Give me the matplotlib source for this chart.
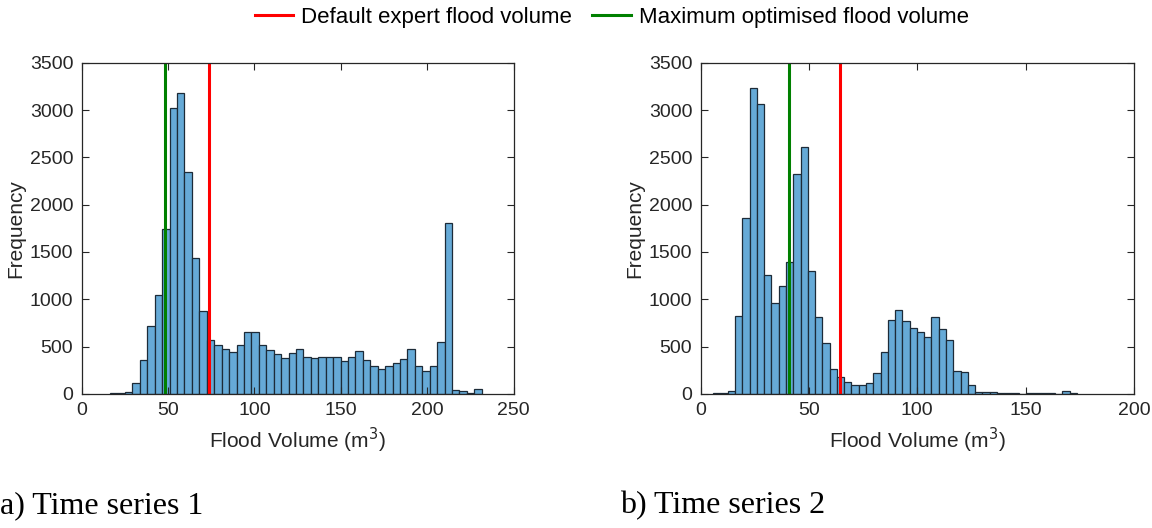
import numpy as np
from matplotlib import pyplot as plt
from matplotlib.lines import Line2D

# histogram counts (50 bins each)
counts_ts1 = [7, 10, 20, 116, 355, 714, 1041, 1738, 3025, 3183,
              2343, 1432, 872, 566, 514, 471, 440, 514, 651, 658,
              517, 461, 419, 376, 429, 474, 394, 379, 387, 390,
              387, 348, 390, 453, 358, 299, 264, 295, 327, 369,
              474, 295, 242, 299, 548, 1810, 42, 32, 10, 49]
counts_ts2 = [7, 10, 28, 819, 1862, 3233, 3067, 1258, 956, 1138,
              1395, 2326, 2604, 1304, 815, 534, 260, 176, 123, 100,
              95, 116, 221, 446, 780, 885, 766, 692, 654, 601,
              812, 685, 566, 242, 232, 98, 21, 21, 21, 10,
              10, 10, 0, 10, 10, 10, 10, 0, 32, 10]

# bin range (first edge, last edge)
range_ts1 = (16.5, 231.5)
range_ts2 = (5.8, 173.7)

default_vol = [73.4, 64.5]
optimised_vol = [48.3, 40.9]

xmax = [250, 200]
xticks = [[0, 50, 100, 150, 200, 250], [0, 50, 100, 150, 200]]
yticks = [0, 500, 1000, 1500, 2000, 2500, 3000, 3500]
captions = ['a) Time series 1', 'b) Time series 2']

bar_color = '#66aad7'
edge_color = '#1d2b38'
axis_color = '#262626'

plt.rcParams['font.family'] = ['Liberation Sans', 'DejaVu Sans']

fig = plt.figure(figsize=(11.52, 5.28), dpi=100)
ax1 = fig.add_axes([0.0709, 0.2538, 0.3750, 0.6275])
ax2 = fig.add_axes([0.6082, 0.2538, 0.3761, 0.6275])

data = [(counts_ts1, range_ts1), (counts_ts2, range_ts2)]
caption_x = [0.0, 0.538]

for i, ax in enumerate([ax1, ax2]):
    cnt, rng = data[i]
    edges = np.linspace(rng[0], rng[1], len(cnt) + 1)
    centers = (edges[:-1] + edges[1:]) / 2
    ax.hist(centers, bins=edges, weights=cnt, color=bar_color,
            edgecolor=edge_color, linewidth=0.9)
    ax.axvline(default_vol[i], color='#ff0000', lw=2.2)
    ax.axvline(optimised_vol[i], color='#008000', lw=2.2)

    ax.set_xlim(0, xmax[i])
    ax.set_ylim(0, 3500)
    ax.set_xticks(xticks[i])
    ax.set_yticks(yticks)
    ax.tick_params(direction='in', length=5, width=0.8, top=True, right=True,
                   labelsize=14, colors=axis_color, pad=6)
    for s in ax.spines.values():
        s.set_color(axis_color)
        s.set_linewidth(0.9)
    ax.set_xlabel('Flood Volume (m$^3$)', fontsize=15, color=axis_color,
                  labelpad=5)
    ax.set_ylabel('Frequency', fontsize=15, color=axis_color, labelpad=3)

    fig.text(caption_x[i], 0.043, captions[i], family='Liberation Serif',
             fontsize=23, color='black', ha='left', va='center')

# shared legend on top
handles = [Line2D([], [], color='#ff0000', lw=2.2),
           Line2D([], [], color='#008000', lw=2.2)]
fig.legend(handles, ['Default expert flood volume', 'Maximum optimised flood volume'],
           loc='upper center', bbox_to_anchor=(0.531, 1.025), ncol=2, frameon=False,
           fontsize=16, handlelength=1.75, handletextpad=0.35, columnspacing=0.9)

fig.savefig('out.png', dpi=100)
plt.close()
